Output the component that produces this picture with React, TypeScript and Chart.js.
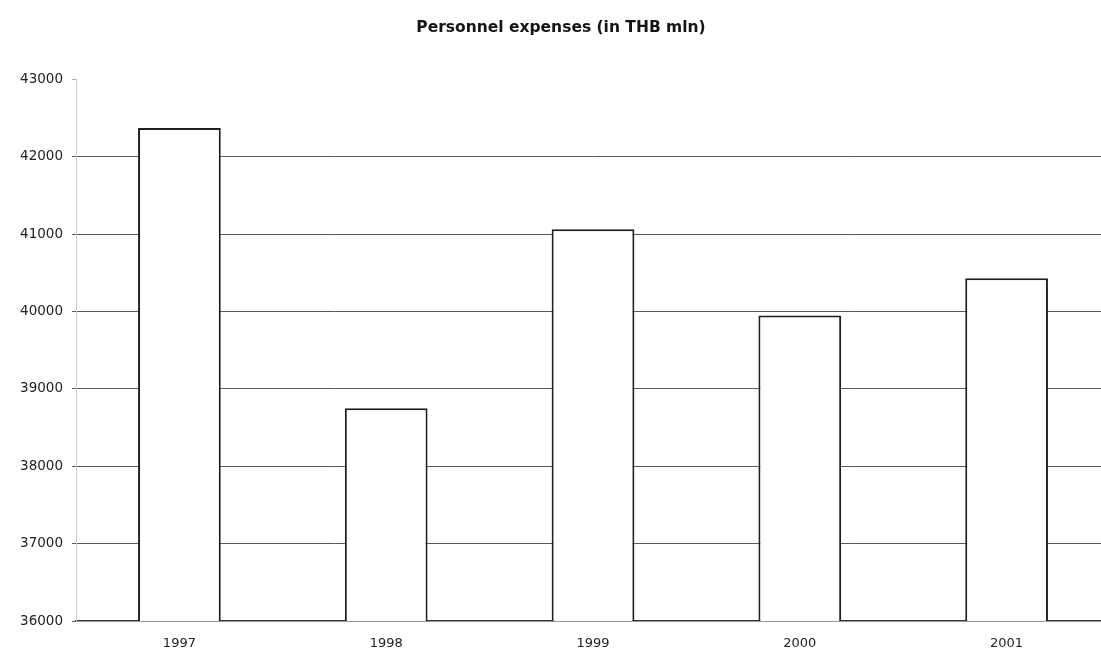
import React, { useEffect, useRef } from "react";
import { Chart, registerables } from "chart.js";

Chart.register(...registerables);

const categories = ["1997", "1998", "1999", "2000", "2001"];
const expenses = [42375, 38750, 41065, 39950, 40430];
const yMin = 36000;
const yMax = 43000;
const yStep = 1000;
const titleText = "Personnel expenses (in THB mln)";

export default function App() {
  const ref = useRef<HTMLCanvasElement | null>(null);

  useEffect(() => {
    if (!ref.current) return;
    const chart = new Chart(ref.current, {
      type: "bar",
      data: {
        labels: categories,
        datasets: [
          {
            data: expenses,
            backgroundColor: "#ffffff",
            borderColor: "#1e1e1e",
            borderWidth: 2,
            borderSkipped: false,
            barPercentage: 0.4,
            categoryPercentage: 1,
          },
        ],
      },
      options: {
        responsive: false,
        animation: false,
        devicePixelRatio: 1,
        layout: { padding: { left: 12, right: 0, top: 0, bottom: 0 } },
        plugins: {
          legend: { display: false },
          tooltip: { enabled: false },
          title: {
            display: true,
            text: titleText,
            color: "#151515",
            font: { family: "DejaVu Sans", size: 15.5, weight: "bold" },
            padding: { top: 19, bottom: 42 },
          },
        },
        scales: {
          x: {
            offset: true,
            grid: { display: true, drawOnChartArea: false, drawTicks: false },
            border: { display: true, color: "#333", width: 1.5 },
            ticks: {
              color: "#222",
              font: { family: "DejaVu Sans", size: 13 },
              padding: 15,
            },
            afterFit: (s: any) => {
              s.height = 28;
            },
          },
          y: {
            min: yMin,
            max: yMax,
            grid: {
              color: (ctx: any) =>
                ctx.tick && (ctx.tick.value === yMax || ctx.tick.value === yMin)
                  ? "rgba(0,0,0,0)"
                  : "#5a5a5a",
              tickColor: (ctx: any) =>
                ctx.tick && ctx.tick.value === yMax ? "#aaa" : "#5a5a5a",
              tickLength: 4,
              lineWidth: 1,
            },
            border: { display: true, color: "#cfcfcf", width: 1 },
            ticks: {
              stepSize: yStep,
              color: "#222",
              font: { family: "DejaVu Sans", size: 13.5 },
              padding: 9,
              callback: (v: any) => String(v),
            },
            afterFit: (s: any) => {
              s.width = 64;
            },
          },
        },
      },
    });
    return () => chart.destroy();
  }, []);

  return (
    <div
      style={{
        position: "fixed",
        left: 0,
        top: 0,
        width: 1101,
        height: 649,
        overflow: "hidden",
        background: "#fff",
      }}
    >
      <canvas ref={ref} width={1110} height={649} style={{ display: "block" }} />
    </div>
  );
}
